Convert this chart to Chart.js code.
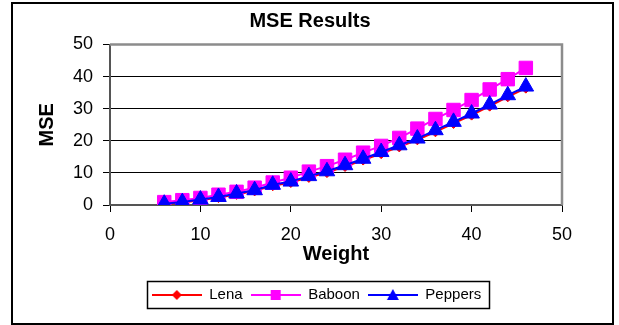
<!DOCTYPE html>
<html>
<head>
<meta charset="utf-8">
<script src="https://cdn.jsdelivr.net/npm/chart.js@4"></script>
<style>
  html, body { margin: 0; padding: 0; background: #fff; }
  #wrap { width: 619px; height: 325px; position: relative; }
</style>
</head>
<body>
<div id="wrap"><canvas id="mseChart"></canvas></div>
<script>
// MSE results per weight

const weights = [6, 8, 10, 12, 14, 16, 18, 20, 22, 24, 26, 28, 30, 32, 34, 36, 38, 40, 42, 44, 46];
const lena    = [0.3, 0.8, 1.5, 2.3, 3.3, 4.4, 6.0, 7.0, 8.6, 10.1, 12.0, 14.0, 16.0, 18.1, 20.3, 22.8, 25.4, 28.0, 30.8, 33.7, 36.4];
const baboon  = [0.9, 1.5, 2.2, 3.2, 4.1, 5.4, 7.0, 8.5, 10.4, 12.1, 14.1, 16.3, 18.4, 20.9, 23.8, 26.8, 29.6, 32.7, 36.0, 39.2, 42.7];
const peppers = [0.4, 0.9, 1.7, 2.5, 3.6, 4.6, 6.3, 7.3, 9.0, 10.5, 12.4, 14.4, 16.5, 18.6, 20.7, 23.3, 25.9, 28.5, 31.3, 34.2, 36.9];
const xTicks = [0, 10, 20, 30, 40, 50];
const yTicks = [0, 10, 20, 30, 40, 50];

const FONT = 'Arial, "Liberation Sans", sans-serif';

function points(ys) {
    return weights.map((w, i) => ({ x: w, y: ys[i] }));
}

// small line + marker picture for the legend
function legendIcon(color, marker) {
    const c = document.createElement('canvas');
    c.width = 50; c.height = 14;
    const g = c.getContext('2d');
    g.strokeStyle = color;
    g.lineWidth = 2;
    g.beginPath(); g.moveTo(0, 7); g.lineTo(50, 7); g.stroke();
    g.fillStyle = color;
    g.beginPath();
    if (marker === 'diamond') {
        g.moveTo(25, 2); g.lineTo(30, 7); g.lineTo(25, 12); g.lineTo(20, 7);
    } else if (marker === 'square') {
        g.rect(20, 2, 10, 10);
    } else {
        g.moveTo(25, 1); g.lineTo(31, 12); g.lineTo(19, 12);
    }
    g.closePath(); g.fill();
    return c;
}

const series = [
    { label: 'Lena',    data: lena,    color: '#ff0000', style: 'rectRot',  radius: 5,   icon: 'diamond', order: 2 },
    { label: 'Baboon',  data: baboon,  color: '#ff00ff', style: 'rect',     radius: 9.5, icon: 'square',  order: 1 },
    { label: 'Peppers', data: peppers, color: '#0000ff', style: 'triangle', radius: 9,   icon: 'triangle', order: 0 }
];

// frame around the whole chart, legend box and plot area border
const framePlugin = {
    id: 'frames',
    afterLayout(chart) {
        // legend sits a bit right of centre in the original
        chart.legend.left += 6.5;
        chart.legend.right += 6.5;
    },
    beforeDatasetsDraw(chart) {
        const { ctx, chartArea: a } = chart;
        ctx.save();
        ctx.strokeStyle = '#8c8c8c';
        ctx.lineWidth = 2.5;
        ctx.beginPath();
        ctx.moveTo(a.left, a.top); ctx.lineTo(a.right, a.top); ctx.lineTo(a.right, a.bottom);
        ctx.stroke();
        ctx.restore();
    },
    afterDraw(chart) {
        const ctx = chart.ctx;
        ctx.save();
        ctx.strokeStyle = '#000';
        ctx.lineWidth = 2;
        ctx.strokeRect(12, 3, 601, 321);
        const boxes = chart.legend.legendHitBoxes;
        if (boxes && boxes.length) {
            const first = boxes[0], last = boxes[boxes.length - 1];
            const x0 = first.left - 5, x1 = last.left + last.width + 8;
            const y0 = first.top - 6.5, y1 = first.top + first.height + 5.5;
            ctx.lineWidth = 1.5;
            ctx.strokeRect(Math.round(x0) + 0.5, Math.round(y0) + 0.5, Math.round(x1 - x0), Math.round(y1 - y0));
        }
        ctx.restore();
    }
};

new Chart(document.getElementById('mseChart'), {
    type: 'line',
    data: {
        datasets: series.map(s => ({
            label: s.label,
            data: points(s.data),
            borderColor: s.color,
            backgroundColor: s.color,
            pointBackgroundColor: s.color,
            pointBorderColor: s.color,
            pointStyle: s.style,
            pointRadius: s.radius,
            pointBorderWidth: 1,
            borderWidth: 2,
            tension: 0,
            order: s.order
        }))
    },
    options: {
        responsive: true,
        maintainAspectRatio: false,
        animation: false,
        events: [],
        layout: { padding: { top: 3, left: 13, right: 12, bottom: 12.5 } },
        plugins: {
            tooltip: { enabled: false },
            title: {
                display: true,
                text: 'MSE Results',
                color: '#000',
                font: { family: FONT, size: 20, weight: 'bold' },
                padding: { top: 6.5, bottom: 11 }
            },
            legend: {
                display: true,
                position: 'bottom',
                labels: {
                    color: '#000',
                    font: { family: FONT, size: 15 },
                    usePointStyle: true,
                    pointStyleWidth: 50,
                    padding: 8,
                    generateLabels() {
                        return series.map((s, i) => ({
                            text: s.label,
                            datasetIndex: i,
                            pointStyle: legendIcon(s.color, s.icon),
                            fillStyle: s.color,
                            strokeStyle: s.color,
                            lineWidth: 0,
                            hidden: false
                        }));
                    }
                }
            }
        },
        scales: {
            x: {
                type: 'linear',
                min: 0,
                max: 50,
                afterBuildTicks(scale) { scale.ticks = xTicks.map(v => ({ value: v })); },
                afterFit(scale) { scale.height = 74.5; },
                ticks: { color: '#000', font: { family: FONT, size: 18 }, padding: 12 },
                grid: { drawOnChartArea: false, drawTicks: true, tickLength: 7, color: '#000', lineWidth: 1 },
                border: { display: true, color: '#555', width: 2 },
                title: {
                    display: true,
                    text: 'Weight',
                    color: '#000',
                    font: { family: FONT, size: 20, weight: 'bold' },
                    padding: { top: 0, bottom: 13.5 }
                }
            },
            y: {
                min: 0,
                max: 50,
                afterBuildTicks(scale) { scale.ticks = yTicks.map(v => ({ value: v })); },
                afterFit(scale) { scale.width = 97; },
                ticks: { color: '#000', font: { family: FONT, size: 18 }, padding: 10 },
                grid: { drawOnChartArea: true, drawTicks: true, tickLength: 7, color: '#000', lineWidth: 1 },
                border: { display: true, color: '#555', width: 2 },
                title: {
                    display: true,
                    text: 'MSE',
                    color: '#000',
                    font: { family: FONT, size: 20, weight: 'bold' },
                    padding: { top: 22, bottom: 0 }
                }
            },
            // empty right-hand spacer so the plot ends where the original does
            spacer: {
                type: 'linear',
                axis: 'y',
                position: 'right',
                min: 0,
                max: 50,
                afterFit(scale) { scale.width = 45; },
                ticks: { display: false },
                grid: { display: false },
                border: { display: false }
            }
        }
    },
    plugins: [framePlugin]
});
</script>
</body>
</html>
